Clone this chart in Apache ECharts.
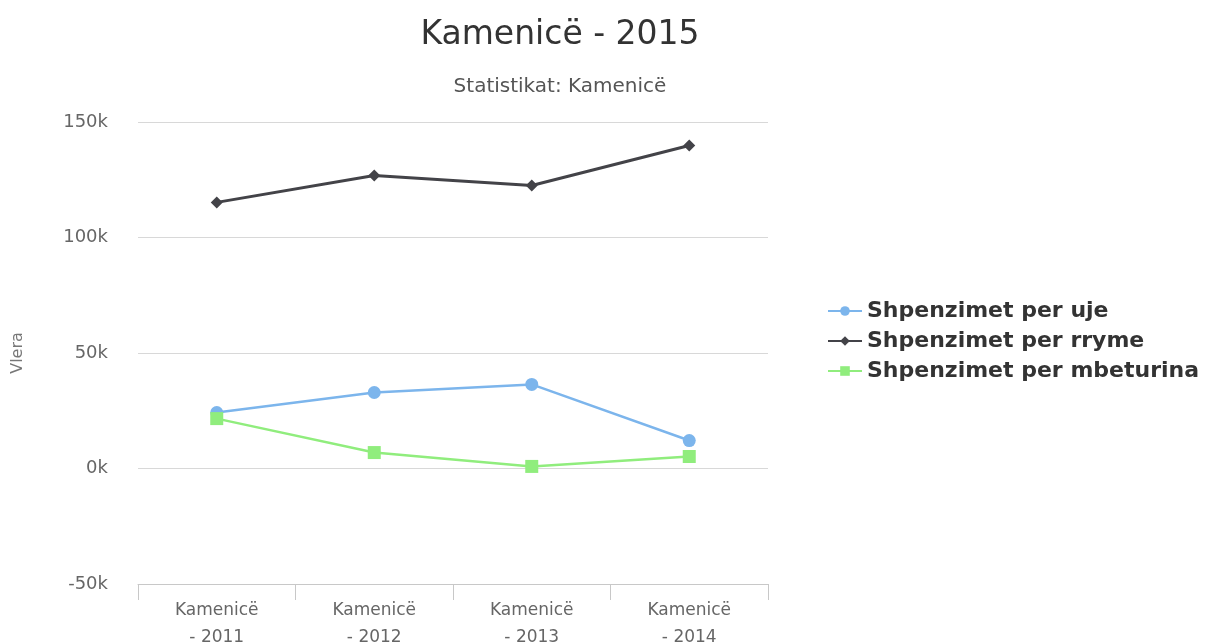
<!DOCTYPE html>
<html>
<head>
<meta charset="utf-8">
<script src="https://cdn.jsdelivr.net/npm/echarts@6/dist/echarts.min.js"></script>
<style>
  html, body { margin: 0; padding: 0; background: #fff; }
  #main { width: 1217px; height: 642px; }
</style>
</head>
<body>
<div id="main"></div>
<script>
var categories = ['Kamenicë\n- 2011', 'Kamenicë\n- 2012', 'Kamenicë\n- 2013', 'Kamenicë\n- 2014'];
var ujeValues = [24200, 32900, 36400, 12100];
var rrymeValues = [115200, 126800, 122500, 139800];
var mbeturinaValues = [21600, 6900, 900, 5200];

var myChart = echarts.init(document.getElementById('main'));

var option = {
    backgroundColor: '#fff',
    title: [
        {
            text: 'Kamenicë - 2015',
            left: 555, top: 14, textAlign: 'center',
            textStyle: { fontFamily: 'DejaVu Sans', fontSize: 33, fontWeight: 'normal', color: '#333' }
        },
        {
            text: 'Statistikat: Kamenicë',
            left: 555, top: 72, textAlign: 'center',
            textStyle: { fontFamily: 'DejaVu Sans', fontSize: 20, fontWeight: 'normal', color: '#555' }
        }
    ],
    legend: {
        orient: 'vertical',
        left: 822, top: 295,
        itemGap: 8,
        itemWidth: 34, itemHeight: 12,
        textStyle: { fontFamily: 'DejaVu Sans', fontSize: 22, fontWeight: 'bold', color: '#333' },
        data: ['Shpenzimet per uje', 'Shpenzimet per rryme', 'Shpenzimet per mbeturina']
    },
    grid: { left: 138, right: 449, top: 122, bottom: 58, outerBoundsMode: 'none' },
    xAxis: {
        type: 'category',
        data: categories,
        boundaryGap: true,
        axisLine: { onZero: false, lineStyle: { color: '#c8c8c8' } },
        axisTick: { show: true, length: 16, lineStyle: { color: '#c8c8c8' } },
        axisLabel: { fontFamily: 'DejaVu Sans', fontSize: 17, color: '#666', lineHeight: 27, margin: 13 }
    },
    yAxis: {
        type: 'value',
        min: -50000, max: 150000, interval: 50000,
        name: 'Vlera',
        nameLocation: 'middle',
        nameGap: 112,
        nameRotate: 90,
        nameTextStyle: { fontFamily: 'DejaVu Sans', fontSize: 16, color: '#777' },
        axisLine: { show: false },
        axisTick: { show: false },
        splitLine: { lineStyle: { color: '#d8d8d8' } },
        axisLabel: {
            fontFamily: 'DejaVu Sans', fontSize: 18, color: '#666', margin: 30,
            formatter: function (v) { return (v / 1000) + 'k'; }
        }
    },
    series: [
        {
            name: 'Shpenzimet per uje',
            type: 'line',
            data: ujeValues,
            symbol: 'circle', symbolSize: 13,
            itemStyle: { color: '#7cb5ec' },
            lineStyle: { width: 2.5, color: '#7cb5ec' }
        },
        {
            name: 'Shpenzimet per rryme',
            type: 'line',
            data: rrymeValues,
            symbol: 'diamond', symbolSize: 12,
            itemStyle: { color: '#434348' },
            lineStyle: { width: 3, color: '#434348' }
        },
        {
            name: 'Shpenzimet per mbeturina',
            type: 'line',
            data: mbeturinaValues,
            symbol: 'rect', symbolSize: 13,
            itemStyle: { color: '#90ed7d' },
            lineStyle: { width: 2.5, color: '#90ed7d' }
        }
    ]
};

myChart.setOption(option);
</script>
</body>
</html>
